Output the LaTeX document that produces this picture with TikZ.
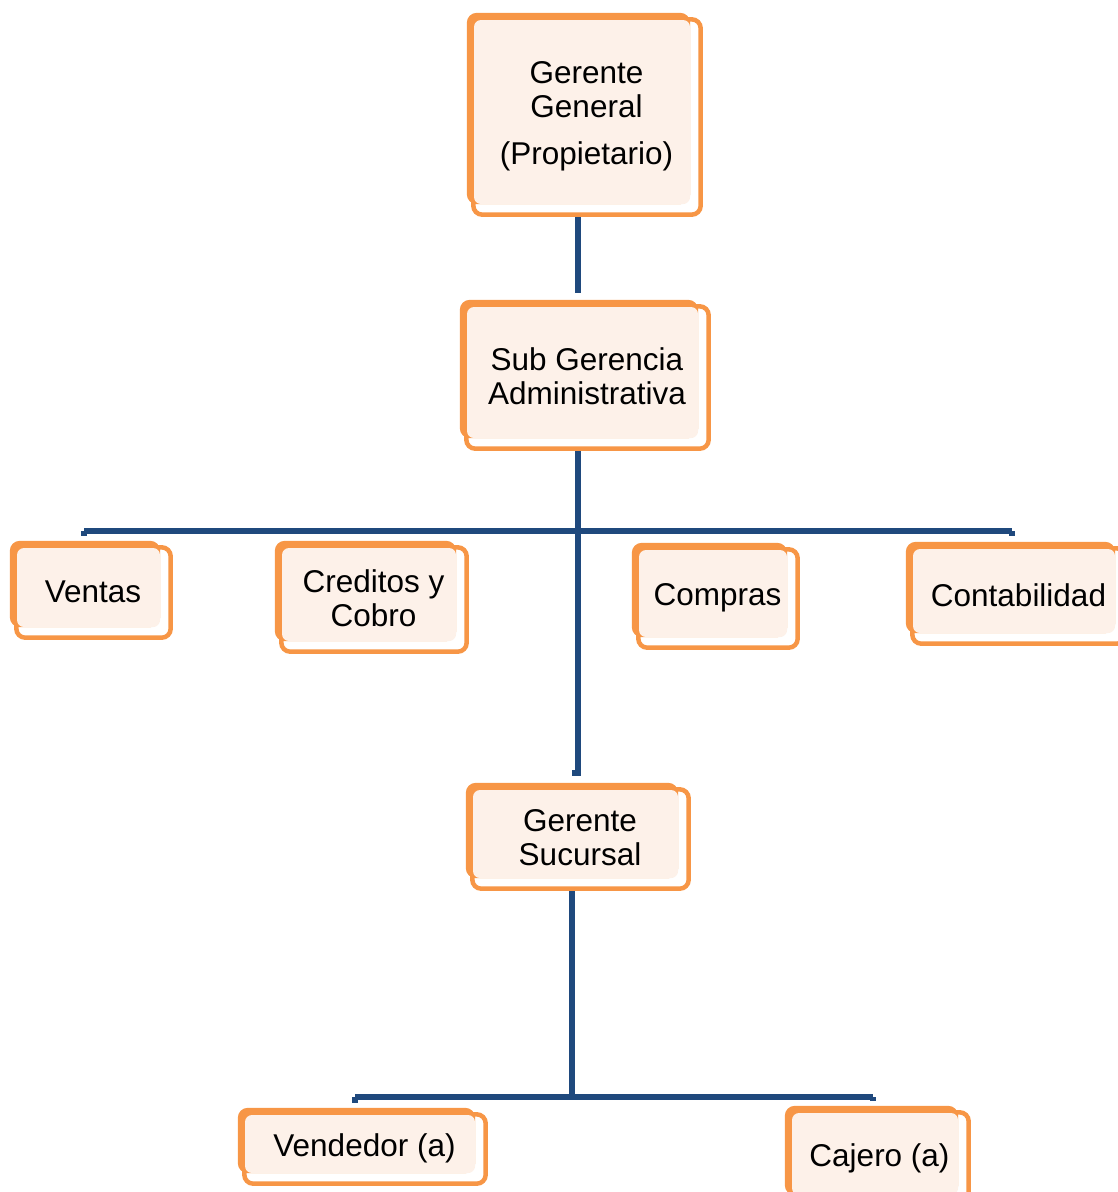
\documentclass[tikz,border=0pt]{standalone}
\usepackage{fontspec}
\setmainfont{Liberation Sans}
\usetikzlibrary{backgrounds}
\definecolor{boxorange}{HTML}{F79646}
\definecolor{boxcream}{HTML}{FDF1E9}
\definecolor{linknavy}{HTML}{1F497D}
\tikzset{
  unit/.style={fill=boxcream, rounded corners=7pt, inner sep=0pt},
  unittext/.style={align=center, font=\fontsize{31.5}{34}\selectfont, text=black,
                   inner sep=0pt, xshift=4.5pt, yshift=-4pt},
  conn/.style={draw=linknavy, line width=5.5pt},
}
% \orgunit{name}{left}{top}{right}{bottom}{text}: cream panel of a unit with its title
\newcommand\orgunit[6]{%
  \node[unit, minimum width={(#4-#2)*1pt}, minimum height={(#5-#3)*1pt},
        label={[unittext, name=#1-title]center:#6}]
    (#1) at ({(#2+#4)/2},{(#3+#5)/2}) {};}
\begin{document}
\begin{tikzpicture}[x=1pt,y=-1pt]
\useasboundingbox (0,0) rectangle (1117,1192);

\orgunit{gg}{474}{20}{690}{204}{Gerente\\General\\[13pt](Propietario)}
\orgunit{sub}{467}{307}{698}{438}{Sub Gerencia\\Administrativa}
\orgunit{ventas}{17}{548}{160}{627}{Ventas}
\orgunit{creditos}{282}{548}{456}{641}{Creditos y\\Cobro}
\orgunit{compras}{639}{550}{787}{637}{Compras}
\orgunit{conta}{913}{549}{1115}{633}{Contabilidad}
\orgunit{gs}{473}{790}{678}{878}{Gerente\\Sucursal}
\orgunit{vend}{245}{1115}{475}{1173}{Vendedor (a)}
\orgunit{caj}{792}{1113}{958}{1195}{Cajero (a)}

\coordinate (spine) at (578,0);
\coordinate (busL) at (84,531);
\coordinate (busM) at (578,531);
\coordinate (busR) at (1012,531);
\coordinate (hook) at (572,773);
\coordinate (lowM) at (572,1097);
\coordinate (lowL) at (355,1097);
\coordinate (lowR) at (873,1097);

\begin{scope}[on background layer]
  % connectors
  \draw[conn, shorten >=14pt] (gg.south -| spine) -- (sub.north -| spine);
  \draw[conn] (sub.south -| spine) -- (busM);
  \draw[conn] (busL) -- (busR);
  \draw[conn, shorten >=12pt] (busL) -- (busL |- ventas.north);
  \draw[conn, shorten >=13pt] (busR) -- (busR |- conta.north);
  \draw[conn] (busM) -- (busM |- hook) -- (hook);
  \draw[conn] (gs.south -| lowM) -- (lowM);
  \draw[conn] (lowL) -- (lowR);
  \draw[conn, shorten >=12pt] (lowL) -- (lowL |- vend.north);
  \draw[conn, shorten >=12pt] (lowR) -- (lowR |- caj.north);
  % double orange frames of the units
  \foreach \n in {gg,sub,ventas,creditos,compras,conta,gs,vend,caj} {
    \draw[boxorange, line width=4.5pt, fill=white, rounded corners=9pt]
      ([shift={(-0.5,-0.5)}]\n.north west) rectangle ([shift={(10.5,10.5)}]\n.south east);
    \fill[boxorange, rounded corners=10pt]
      ([shift={(-7,-7)}]\n.north west) rectangle (\n.south east);
  }
\end{scope}
\end{tikzpicture}
\end{document}
